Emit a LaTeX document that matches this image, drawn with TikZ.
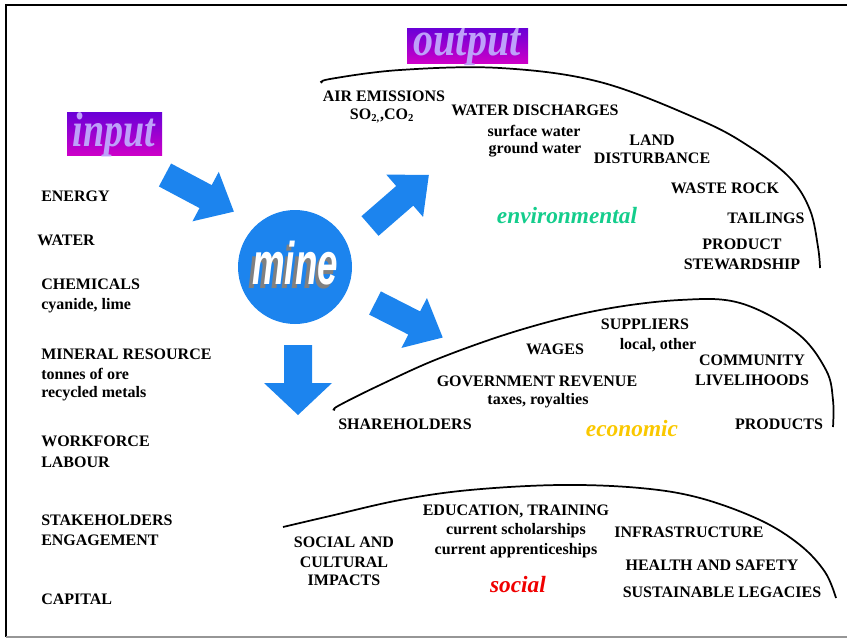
\documentclass[tikz,border=0pt]{standalone}
\usepackage{fontspec}
\setmainfont{Liberation Serif}
\newfontfamily\arialfont{Liberation Sans}
\usetikzlibrary{shadings}
\definecolor{mineblue}{RGB}{28,132,238}
\definecolor{envgreen}{RGB}{20,205,140}
\definecolor{ecogold}{RGB}{250,200,0}
\definecolor{socred}{RGB}{240,0,0}
\definecolor{lbltop}{RGB}{105,0,215}
\definecolor{lblbot}{RGB}{205,0,200}
\definecolor{lbltext}{RGB}{190,160,250}
\definecolor{framegray}{RGB}{150,150,150}
\newcommand\bkarrow[6]{% x,y of tail centre, angle, length, shaft half width, head half width
  \begin{scope}[shift={(#1,#2)},rotate=#3]
    \fill[mineblue] (0,-#5) -- ({#4-32},-#5) -- ({#4-32},-#6) -- (#4,0) -- ({#4-32},#6) -- ({#4-32},#5) -- (0,#5) -- cycle;
  \end{scope}}
\begin{document}
\begin{tikzpicture}[x=0.75pt,y=-0.75pt,
  lbl/.style={font=\fontsize{12}{14}\selectfont\bfseries, inner sep=0pt},
  lleft/.style={lbl, anchor=west},
  lblc/.style={lbl, align=center},
  sect/.style={font=\fontsize{17.5}{20}\selectfont\bfseries\itshape, inner sep=0pt},
  curve/.style={line width=1.3pt, black},
  tagbox/.style={top color=lbltop, bottom color=lblbot, draw=none},
  tagtext/.style={text=lbltext, font=\fontsize{30}{30}\selectfont\bfseries\itshape, inner sep=0pt}]
\useasboundingbox (0,0) rectangle (847,639);
% frame
\draw[line width=1.2pt] (847,5) -- (6,5) -- (6,637);
\draw[framegray, line width=1pt] (6,637) -- (847,637);

% labels input/output
\fill[tagbox] (67,112) rectangle (162,155);
\node[tagtext, xscale=0.95, yscale=1.22] (inp) at (114,135) {input};
\fill[tagbox] (407,28) rectangle (528,63);
\node[tagtext, xscale=1.0, yscale=1.2] (outp) at (467,47) {output};

% mine circle
\fill[mineblue] (295,267) circle (57);
\node[font=\arialfont\fontsize{29}{29}\selectfont\bfseries\itshape, text=white, xscale=0.95, yscale=1.55, inner sep=0pt] (mine) at (295,265)
  {\makebox[0pt][l]{\hspace{-2.5pt}\raisebox{-1.6pt}{\textcolor{gray}{mine}}}mine};

% block arrows
\bkarrow{165}{175}{-28}{78}{13}{28}
\bkarrow{370}{226}{41}{78}{13}{28}
\bkarrow{375}{303}{-27}{76}{13}{28}
\bkarrow{298}{345}{-90}{70}{14}{34}

% curves
\draw[curve] plot[smooth, tension=0.6] coordinates {(322,83) (330,79) (400,70) (500,68) (600,82) (700,120) (750,147) (790,178) (810,210) (818,247) (820,268)};
\draw[curve] plot[smooth, tension=0.6] coordinates {(335,410) (338,406) (380,385) (440,358) (520,330) (600,310) (680,300) (740,303) (797,333) (826,370) (833,400) (833,427)};
\draw[curve] plot[smooth, tension=0.6] coordinates {(283,527) (330,516) (400,500) (470,490) (560,485) (640,488) (700,498) (760,520) (800,545) (825,572) (836,598)};

% input column
\node[lleft] (energy) at (41,196) {ENERGY};
\node[lleft] (water) at (37,240) {WATER};
\node[lleft] (chem) at (41,284) {CHEMICALS};
\node[lleft] (cyan) at (41,306) {cyanide, lime};
\node[lleft] (minres) at (41,354) {MINERAL RESOURCE};
\node[lleft] (tonnes) at (41,374) {tonnes of ore};
\node[lleft] (recyc) at (41,394) {recycled metals};
\node[lleft] (work) at (41,441) {WORKFORCE};
\node[lleft] (labour) at (41,462) {LABOUR};
\node[lleft] (stake) at (41,520) {STAKEHOLDERS};
\node[lleft] (engage) at (41,540) {ENGAGEMENT};
\node[lleft] (capital) at (41,599) {CAPITAL};

% environmental
\node[lblc] (air) at (384,96) {AIR EMISSIONS};
\node[lblc] (so2) at (382,116) {SO\textsubscript{2,},CO\textsubscript{2}};
\node[lblc] (wdis) at (535,110) {WATER DISCHARGES};
\node[lblc] (surf) at (534,131) {surface water};
\node[lblc] (grnd) at (535,150) {ground water};
\node[lblc] (land) at (652,140) {LAND};
\node[lblc] (dist) at (652,158) {DISTURBANCE};
\node[lblc] (waste) at (725,188) {WASTE ROCK};
\node[lblc] (tail) at (766,218) {TAILINGS};
\node[lblc] (prod) at (742,244) {PRODUCT};
\node[lblc] (stew) at (742,264) {STEWARDSHIP};
\node[sect, text=envgreen] (env) at (567,216) {environmental};

% economic
\node[lblc] (supp) at (645,324) {SUPPLIERS};
\node[lblc] (local) at (658,345) {local, other};
\node[lblc] (wages) at (555,349) {WAGES};
\node[lblc] (comm) at (752,360) {COMMUNITY};
\node[lblc] (liveli) at (752,380) {LIVELIHOODS};
\node[lblc] (gov) at (537,381) {GOVERNMENT REVENUE};
\node[lblc] (taxes) at (538,401) {taxes, royalties};
\node[lblc] (share) at (405,424) {SHAREHOLDERS};
\node[lblc] (products) at (779,424) {PRODUCTS};
\node[sect, text=ecogold] (eco) at (632,429) {economic};

% social
\node[lblc] (edu) at (516,511) {EDUCATION, TRAINING};
\node[lblc] (schol) at (516,531) {current scholarships};
\node[lblc] (appr) at (516,551) {current apprenticeships};
\node[lblc] (infra) at (689,532) {INFRASTRUCTURE};
\node[lblc] (soc1) at (344,542) {SOCIAL AND};
\node[lblc] (soc2) at (344,562) {CULTURAL};
\node[lblc] (soc3) at (344,580) {IMPACTS};
\node[lblc] (health) at (712,565) {HEALTH AND SAFETY};
\node[lblc] (legacy) at (722,592) {SUSTAINABLE LEGACIES};
\node[sect, text=socred] (soc) at (518,585) {social};
\end{tikzpicture}
\end{document}
